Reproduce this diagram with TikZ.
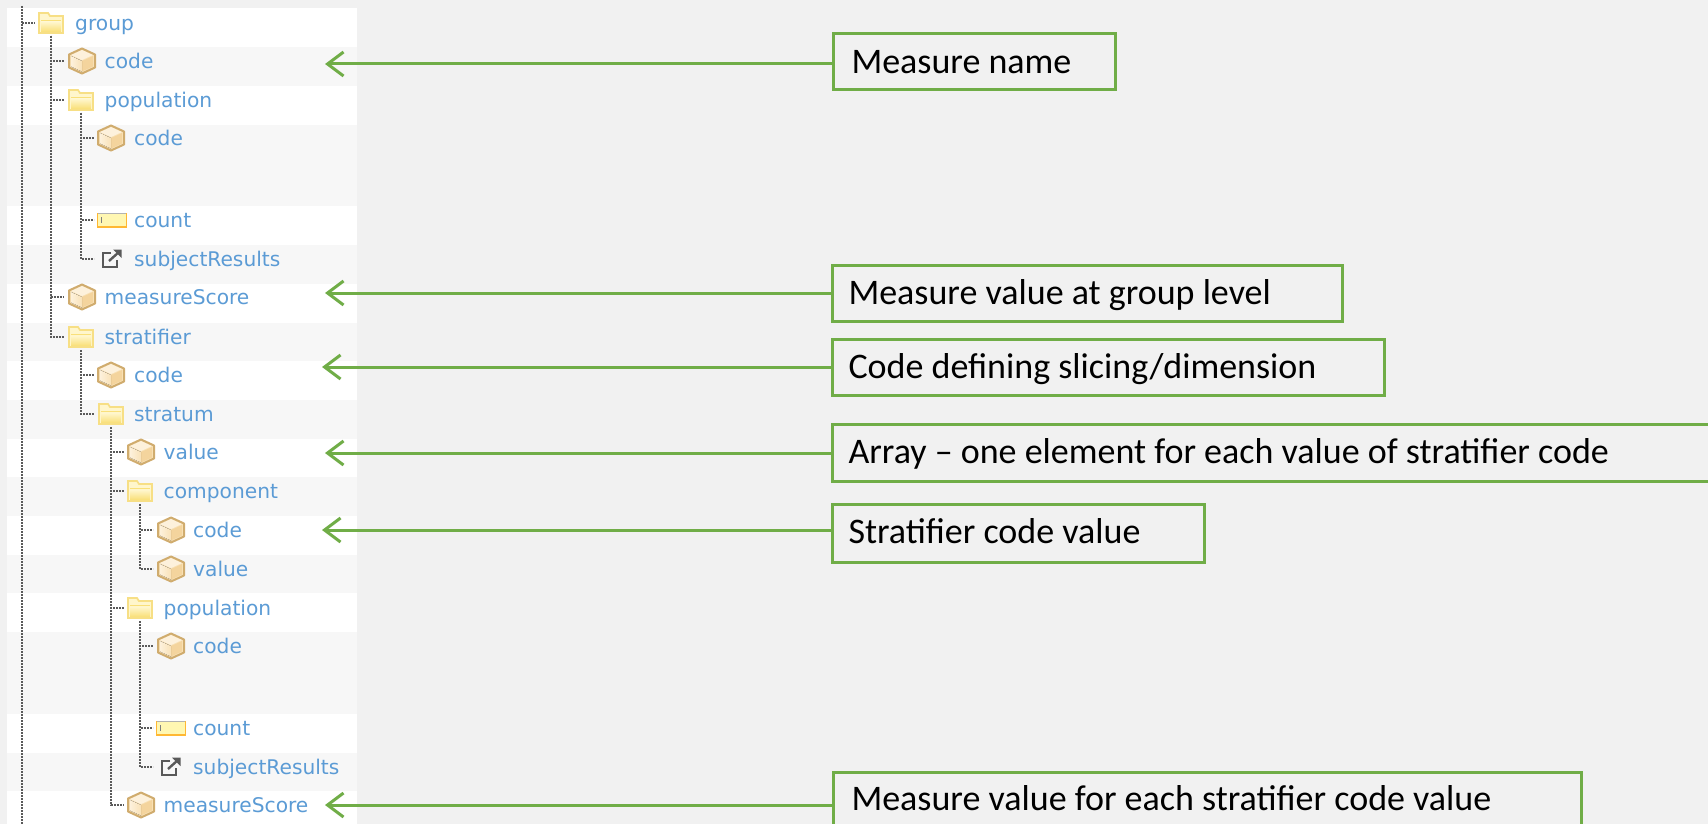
\documentclass[tikz,border=0pt]{standalone}
\usepackage{fontspec}
\setmainfont{Carlito}
\newfontfamily\treefont{DejaVu Sans}
\usetikzlibrary{arrows.meta,calc}
\definecolor{pagebg}{HTML}{F1F1F1}
\definecolor{rowgray}{HTML}{F7F7F7}
\definecolor{calloutgreen}{HTML}{70AD47}
\definecolor{treeblue}{HTML}{5B9BD5}
\definecolor{treeline}{HTML}{5A5A5A}
\definecolor{cubeedge}{HTML}{D0AC6E}
\definecolor{cubelight}{HTML}{FDF1DC}
\definecolor{cubemid}{HTML}{F9E2B8}
\definecolor{cubedark}{HTML}{F2CF92}
\definecolor{folderedge}{HTML}{F7DF85}
\definecolor{folderlight}{HTML}{FFF6CC}
\definecolor{folderdark}{HTML}{F9E07A}
\tikzset{
  x=1pt,y=-1pt,
  callout/.style={draw=calloutgreen,line width=3pt,rectangle,anchor=north west,outer sep=0pt,inner sep=0pt,inner xsep=18.5pt,
    align=flush left,text=black,font=\fontsize{36}{40}\selectfont,text height=28.5pt,text depth=5.5pt},
  pointer/.style={draw=calloutgreen,line width=3pt,-{Straight Barb[length=16pt,width=24pt,line width=3pt]}},
  treelabel/.style={anchor=base west,inner sep=0pt,text=treeblue,font=\fontsize{20.2}{24}\selectfont\treefont},
  iconbox/.style={inner sep=0pt,minimum width=22pt,minimum height=22pt},
  branch/.style={draw=treeline,line width=2.4pt,dash pattern=on 1.8pt off 1.2pt},
  cubeicon/.pic={
    \fill[cubemid] (-13,-6.5)--(0,-12.5)--(13,-6.5)--(13,6.5)--(0,12.5)--(-13,6.5)--cycle;
    \fill[cubelight] (-11,-6)--(0,-11)--(11,-6)--(0,-1)--cycle;
    \fill[left color=cubelight,right color=cubemid] (-11,-5)--(0,0)--(0,10.5)--(-11,5.5)--cycle;
    \fill[cubedark,opacity=.7] (11,-5)--(0,0)--(0,10.5)--(11,5.5)--cycle;
    \draw[draw=cubeedge,line width=2pt,line join=round] (-13,-6.5)--(0,-12.5)--(13,-6.5)--(13,6.5)--(0,12.5)--(-13,6.5)--cycle;
  },
  foldericon/.pic={
    \fill[folderlight] (-12,-10)--(-3,-10)--(-1,-7)--(12,-7)--(12,10)--(-12,10)--cycle;
    \fill[top color=folderlight,bottom color=folderdark] (-10,-1) rectangle (10,8.5);
    \draw[folderdark,line width=1pt] (-10,-2.5)--(10,-2.5);
    \draw[folderedge,line width=1.8pt] (-12,-10)--(-3,-10)--(-1,-7)--(12,-7)--(12,10)--(-12,10)--cycle;
  },
  baricon/.pic={
    \fill[orange!22!yellow!30] (-14.5,-7) rectangle (14.5,7);
    \draw[gray!60,line width=1pt] (-14.5,-6.5)--(14.5,-6.5);
    \draw[orange!70!yellow!80,line width=1.6pt] (-14.5,-7)--(-14.5,7)--(14.5,7)--(14.5,-7);
    \draw[gray,line width=1pt] (-10.5,-3)--(-10.5,3);
  },
  linkicon/.pic={
    \draw[black!65,line width=2.4pt] (0,-6)--(-8,-6)--(-8,8)--(6,8)--(6,1);
    \draw[black!65,line width=2.4pt] (-2,2)--(8,-7);
    \fill[black!65] (2,-9.5)--(10.5,-9.5)--(10.5,-1)--cycle;
  }
}
% \trow{name}{icon}{icon x}{row y}{label x}{label}
\newcommand{\trow}[6]{%
  \node[iconbox] (#1) at (#3,#4) {};
  \pic at (#1) {#2};
  \node[treelabel] (#1t) at (#5,#4+7.2) {#6};
}
\begin{document}
\begin{tikzpicture}
\clip (0,0) rectangle (1708,824);
\fill[pagebg] (0,0) rectangle (1708,824);
% row bands
\fill[white] (7,8) rectangle (357,824);
\foreach \a/\b in {47/86,125/206,245/284,323/361,400/439,477/516,555/593,632/714,753/791}
  \fill[rowgray] (7,\a) rectangle (357,\b);
% rows
\trow{group}{foldericon}{51}{23}{75}{group}
\trow{gcode}{cubeicon}{82}{61}{104.5}{code}
\trow{gpop}{foldericon}{81}{100}{104.5}{population}
\trow{gpcode}{cubeicon}{111}{138}{134}{code}
\trow{gpcount}{baricon}{112}{220}{134}{count}
\trow{gpsubj}{linkicon}{111}{259}{134}{subjectResults}
\trow{gscore}{cubeicon}{82}{297}{104.5}{measureScore}
\trow{strat}{foldericon}{81}{337}{104.5}{stratifier}
\trow{scode}{cubeicon}{111}{375}{134}{code}
\trow{stratum}{foldericon}{111}{414}{134}{stratum}
\trow{svalue}{cubeicon}{141}{452}{163.5}{value}
\trow{comp}{foldericon}{140}{491}{163.5}{component}
\trow{ccode}{cubeicon}{171}{530}{193}{code}
\trow{cvalue}{cubeicon}{171}{569}{193}{value}
\trow{spop}{foldericon}{140}{608}{163.5}{population}
\trow{spcode}{cubeicon}{171}{646}{193}{code}
\trow{spcount}{baricon}{171}{728}{193}{count}
\trow{spsubj}{linkicon}{170}{767}{193}{subjectResults}
\trow{sscore}{cubeicon}{141}{805}{163.5}{measureScore}
% tree connectors
\coordinate (rootTop) at (22,6);
\coordinate (rootEnd) at (22,824);
\draw[branch] (rootTop) -- (rootEnd);
\draw[branch] (rootTop |- group) -- ++(13,0);
\foreach \p/\cs in {group/{gcode,gpop,gscore,strat},gpop/{gpcode,gpcount,gpsubj},strat/{scode,stratum},stratum/{svalue,comp,spop,sscore},comp/{ccode,cvalue},spop/{spcode,spcount,spsubj}}{
  \foreach \c in \cs {
    \draw[branch] ([yshift=-13pt]\p.center) |- ($(\p.center |- \c)+(13,0)$);
  }
}
% callouts
\node[callout,minimum width=282pt,minimum height=56pt,text width=245pt] (b1) at (833,34) {Measure name};
\node[callout,minimum width=510pt,minimum height=56pt,text width=477pt,inner xsep=16.5pt] (b2) at (832,265) {Measure value at group level};
\node[callout,minimum width=552pt,minimum height=56pt,text width=519pt,inner xsep=16.5pt] (b3) at (832,339) {Code defining slicing/dimension};
\node[callout,minimum width=900pt,minimum height=57pt,text width=867pt,inner xsep=16.5pt,text height=27.5pt,text depth=6.5pt] (b4) at (832,424) {Array -- one element for each value of stratifier code};
\node[callout,minimum width=372pt,minimum height=58pt,text width=339pt,inner xsep=16.5pt,text height=27.5pt,text depth=6.5pt] (b5) at (832,504) {Stratifier code value};
\node[callout,minimum width=748pt,minimum height=56pt,text width=711pt,text height=27.5pt,text depth=6.5pt] (b6) at (833,772) {Measure value for each stratifier code value};
% pointers
\coordinate (a1) at (325,64);
\coordinate (a2) at (325,293);
\coordinate (a3) at (322,367);
\coordinate (a4) at (325,453);
\coordinate (a5) at (322,530);
\coordinate (a6) at (325,805);
\foreach \i in {1,...,6}
  \draw[pointer] (b\i.west |- a\i) -- (a\i);
\end{tikzpicture}
\end{document}
